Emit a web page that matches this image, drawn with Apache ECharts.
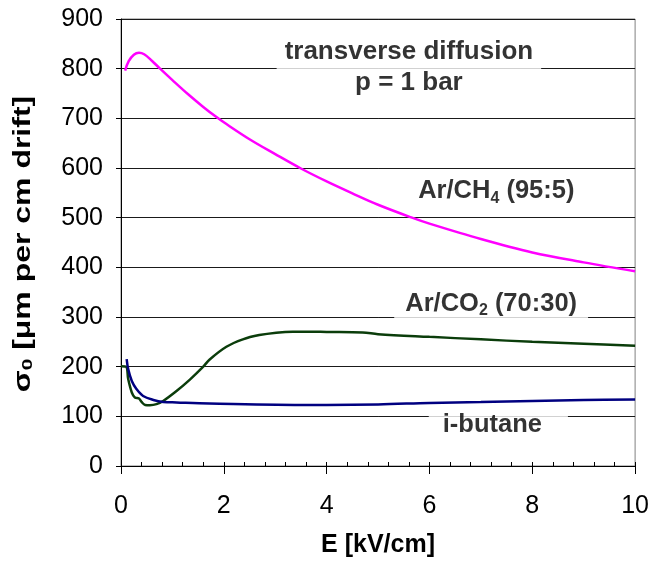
<!DOCTYPE html>
<html>
<head>
<meta charset="utf-8">
<style>
  html, body { margin: 0; padding: 0; background: #fff; }
  #chart { width: 652px; height: 563px; }
</style>
<script src="https://cdn.jsdelivr.net/npm/echarts@6/dist/echarts.min.js"></script>
</head>
<body>
<div id="chart"></div>
<script>
// Transverse diffusion coefficient vs drift field, p = 1 bar
const fieldArCH4 = [0.08, 0.15, 0.25, 0.35, 0.45, 0.6, 0.76, 1.0, 1.3, 1.6, 1.85, 2.0, 2.5, 3.0, 3.5, 4.0, 4.5, 5.0, 5.66, 6.0, 7.0, 8.0, 9.0, 10.0];
const sigmaArCH4 = [796, 815, 828, 832, 829, 816, 800, 777, 749, 723, 703, 692, 658, 628, 599, 573, 549, 526, 500, 488, 457, 430, 410, 392];

const fieldArCO2 = [0.0, 0.1, 0.14, 0.21, 0.27, 0.35, 0.40, 0.47, 0.56, 0.69, 0.82, 1.08, 1.34, 1.6, 1.72, 2.05, 2.37, 2.69, 3.02, 3.34, 3.66, 4.0, 4.7, 5.0, 6.0, 7.0, 8.0, 9.0, 10.0];
const sigmaArCO2 = [201, 200, 175, 148, 138, 136, 129, 123, 122.5, 124.5, 131, 151, 174, 200, 214, 240, 255, 263.6, 268.5, 270.5, 270.5, 270, 269, 265.5, 260, 255, 250, 246, 242];

const fieldIsoButane = [0.11, 0.14, 0.21, 0.30, 0.43, 0.63, 0.82, 1.08, 1.72, 3.66, 4.0, 5.0, 6.0, 7.0, 8.0, 9.0, 10.0];
const sigmaIsoButane = [215, 195, 171, 155, 141, 133, 129, 128, 126, 123, 123, 124, 127, 129, 131, 133, 134];

const xTicks = { min: 0, max: 10, interval: 2 };
const yTicks = { min: 0, max: 900, interval: 100 };

function pairs(xs, ys) { return xs.map((x, i) => [x, ys[i]]); }

// Annotation texts, anchored in data coordinates
const notes = [
  { text: 'transverse diffusion\np = 1 bar', at: [5.6, 802], style: 'title' },
  { text: 'Ar/CH{sub|4} (95:5)', at: [7.3, 553], style: 'tag' },
  { text: 'Ar/CO{sub|2} (70:30)', at: [7.2, 326], style: 'tag' },
  { text: 'i-butane', at: [7.34, 82], style: 'butane' }
];

const FONT = '"Liberation Sans", Arial, sans-serif';

const noteStyles = {
  title: { fontSize: 26, lineHeight: 31, padding: [6, 8, 6, 8] },
  tag: { fontSize: 25.5, lineHeight: 30, padding: [0, 11, 0, 11] },
  butane: { fontSize: 25.5, lineHeight: 30, padding: [0, 26, 0, 14] }
};

const chart = echarts.init(document.getElementById('chart'), null, { renderer: 'canvas' });

const lineSeries = (name, xs, ys, color) => ({
  name, type: 'line', data: pairs(xs, ys), showSymbol: false, smooth: 0.35,
  lineStyle: { color, width: 2.5 }, z: 3, animation: false
});

const noteSeries = notes.map(n => {
  const st = noteStyles[n.style];
  return {
    type: 'scatter', symbolSize: 0, z: 5, animation: false, silent: true,
    data: [{ value: n.at }],
    label: {
      show: true, position: 'inside', formatter: n.text,
      fontFamily: FONT, fontWeight: 'bold', fontSize: st.fontSize, lineHeight: st.lineHeight,
      color: '#000', backgroundColor: '#fff', padding: st.padding, align: 'center',
      rich: {
        sub: { fontFamily: FONT, fontWeight: 'bold', fontSize: 16, lineHeight: 16, verticalAlign: 'bottom', color: '#000' }
      }
    }
  };
});

const option = {
  backgroundColor: '#fff',
  animation: false,
  grid: { left: 121, right: 15, top: 19, bottom: 96, show: true, borderColor: '#808080', borderWidth: 1 },
  xAxis: [
    {
      type: 'value', min: xTicks.min, max: xTicks.max, interval: xTicks.interval,
      name: 'E [kV/cm]', nameLocation: 'middle', nameGap: 67,
      nameTextStyle: { fontFamily: FONT, fontWeight: 'bold', fontSize: 25, color: '#000' },
      axisLine: { show: true, lineStyle: { color: '#000', width: 1 } },
      axisTick: { show: true, inside: false, length: 8, lineStyle: { color: '#000' } },
      axisLabel: { fontFamily: FONT, fontSize: 25, color: '#000', margin: 28 },
      splitLine: { show: false }
    },
    {
      type: 'value', min: xTicks.min, max: xTicks.max, interval: xTicks.interval, position: 'bottom',
      axisLine: { show: false },
      axisTick: { show: true, inside: true, length: 4, lineStyle: { color: '#000' } },
      minorTick: { show: true, splitNumber: 5, length: 4, lineStyle: { color: '#000' } },
      axisLabel: { show: false },
      splitLine: { show: false }
    }
  ],
  yAxis: {
    type: 'value', min: yTicks.min, max: yTicks.max, interval: yTicks.interval,
    axisLine: { show: true, lineStyle: { color: '#000', width: 1 } },
    axisTick: { show: true, inside: false, length: 5, lineStyle: { color: '#000' } },
    axisLabel: { fontFamily: FONT, fontSize: 25, color: '#000', margin: 18 },
    splitLine: { show: true, lineStyle: { color: '#1a1a1a', width: 1 } }
  },
  // vertical axis title, stretched along its reading direction
  graphic: [{
    type: 'text', x: 24, y: 244, rotation: Math.PI / 2, scaleX: 1.39, scaleY: 1, silent: true,
    style: {
      text: 'σ{sub|0} [μm per cm drift]', align: 'center', verticalAlign: 'middle',
      fontFamily: FONT, fontWeight: 'bold', fontSize: 23, fill: '#000',
      rich: { sub: { fontFamily: FONT, fontWeight: 'bold', fontSize: 15, verticalAlign: 'bottom', fill: '#000' } }
    }
  }],
  series: [
    lineSeries('Ar/CH4 (95:5)', fieldArCH4, sigmaArCH4, '#ff00ff'),
    lineSeries('Ar/CO2 (70:30)', fieldArCO2, sigmaArCO2, '#0b3d0b'),
    lineSeries('i-butane', fieldIsoButane, sigmaIsoButane, '#000080'),
    ...noteSeries
  ]
};

chart.setOption(option);
</script>
</body>
</html>
